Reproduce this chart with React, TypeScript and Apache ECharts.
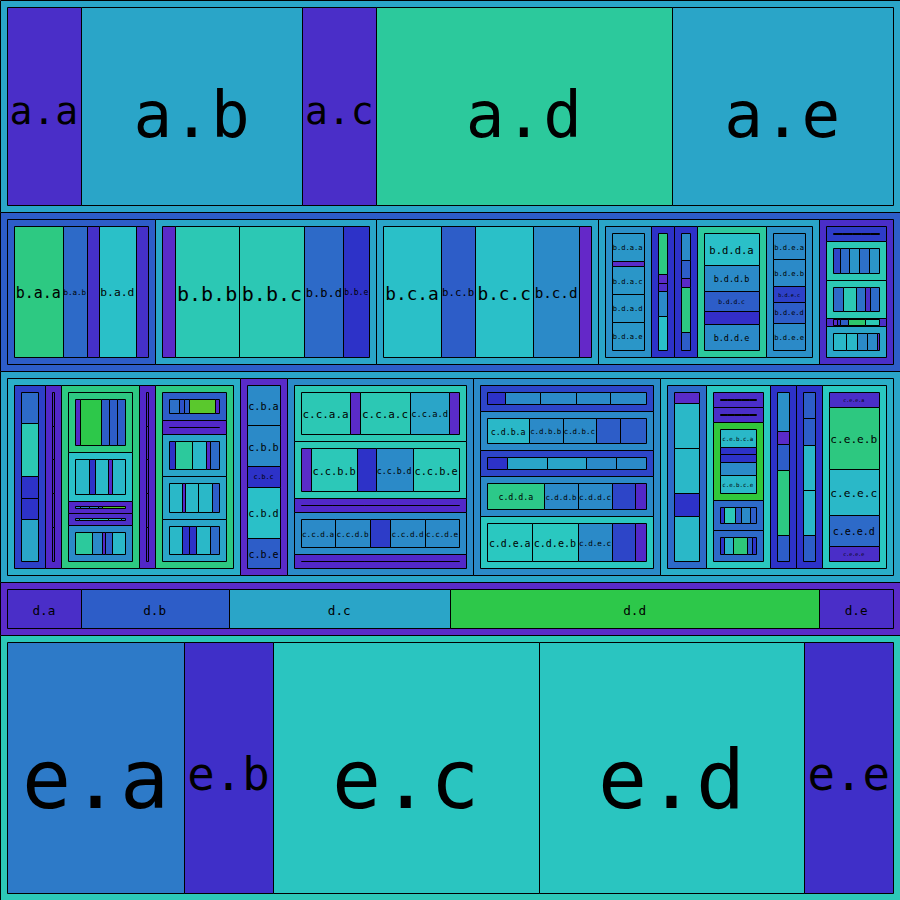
import React, { useEffect, useRef } from "react";
import * as echarts from "echarts";

// Every parent node has five children named a..e; each group lists its children's relative weights.
const childLetters = ["a", "b", "c", "d", "e"];

const groupIds = [
  "root",
  "a", "b", "c", "d", "e",
  "b.a", "b.b", "b.c", "b.d", "b.e",
  "c.a", "c.b", "c.c", "c.d", "c.e",
  "b.d.a", "b.d.b", "b.d.c", "b.d.d", "b.d.e",
  "b.e.a", "b.e.b", "b.e.c", "b.e.d", "b.e.e",
  "c.a.a", "c.a.b", "c.a.c", "c.a.d", "c.a.e",
  "c.c.a", "c.c.b", "c.c.c", "c.c.d", "c.c.e",
  "c.d.a", "c.d.b", "c.d.c", "c.d.d", "c.d.e",
  "c.e.a", "c.e.b", "c.e.c", "c.e.d", "c.e.e",
  "c.a.c.a", "c.a.c.b", "c.a.c.c", "c.a.c.d", "c.a.c.e",
  "c.a.e.a", "c.a.e.b", "c.a.e.c", "c.a.e.d", "c.a.e.e",
  "c.e.b.a", "c.e.b.b", "c.e.b.c", "c.e.b.d", "c.e.b.e",
];

const groupWeights: number[][] = [
  [12, 9, 12, 3, 15],
  [1, 3, 1, 4, 3], [2, 3, 3, 3, 1], [5, 1, 4, 4, 5], [1, 2, 3, 5, 1], [2, 1, 3, 3, 1],
  [4, 2, 1, 3, 1], [1, 5, 5, 3, 2], [5, 3, 5, 4, 1], [2, 1, 1, 3, 2], [2, 5, 5, 1, 4],
  [2, 1, 5, 1, 5], [4, 4, 2, 5, 3], [4, 4, 1, 3, 1], [2, 3, 2, 3, 4], [3, 5, 2, 2, 5],
  [5, 1, 5, 5, 5], [5, 1, 1, 3, 4], [6, 4, 2, 10, 4], [5, 4, 3, 2, 4], [5, 5, 3, 4, 5],
  [1, 1, 1, 1, 1], [7, 8, 10, 9, 10], [9, 13, 9, 4, 9], [4, 3, 7, 17, 13], [12, 11, 9, 10, 2],
  [3, 5, 2, 2, 4], [1, 1, 1, 1, 1], [10, 8, 2, 2, 6], [1, 1, 1, 1, 1], [2, 1, 3, 3, 3],
  [5, 1, 5, 4, 1], [10, 46, 18, 37, 46], [1, 1, 1, 1, 1], [5, 5, 3, 5, 5], [1, 1, 1, 1, 1],
  [17, 35, 35, 34, 35], [41, 33, 33, 24, 25], [2, 4, 4, 3, 3], [56, 33, 34, 22, 11], [44, 45, 34, 22, 11],
  [1, 4, 4, 2, 4], [1, 1, 5, 2, 2], [3, 1, 2, 5, 2], [3, 3, 5, 5, 3], [1, 4, 3, 2, 1],
  [5, 20, 8, 8, 8], [13, 6, 13, 3, 13], [5, 8, 9, 4, 22], [4, 12, 16, 12, 4], [16, 10, 3, 6, 13],
  [9, 5, 5, 24, 4], [1, 1, 1, 1, 1], [6, 16, 13, 3, 9], [12, 3, 12, 13, 7], [12, 7, 6, 13, 9],
  [1, 1, 1, 1, 1], [1, 1, 1, 1, 1], [17, 7, 7, 13, 17], [4, 10, 6, 8, 6], [4, 9, 13, 4, 4],
];

const palette: Record<string, string> = {
  PU: "#4a2ec8", VI: "#5a2bc8", VD: "#5228c8", IN: "#2d32c8", DR: "#2d45c8",
  RO: "#2d5dc8", RL: "#2d6ac8", MB: "#2b8ac8", CE: "#2aa5c8", AQ: "#2aaec8",
  CY: "#2ab8c8", CC: "#2ac0c8", TE: "#2cc8b4", TC: "#2ac8c0", TG: "#2cc99c",
  GT: "#2dc982", GR: "#2dc84a", LI: "#5ac82d",
};

const groupColors = [
  "CE RO CE VI #2cc8b8",
  "PU CE PU TG CE", "RO CE CE CE PU", "AQ VI MB MB AQ", "PU RO CE GR PU", "#2d7ac8 #3f2fc8 #2ac5c0 #2ac5c0 #3f2fc8",
  "GT RL #4530c8 CC #4530c8", "VI TE TE RL IN", "CC RO CC MB #6428c8", "#2b90c8 IN IN TG #2b90c8", "#2d3cc8 TE TE PU CE",
  "#2d40c8 VD GT VD GT", "MB MB IN CC RO", "TE TE VD MB VD", "DR MB DR MB TC", "RL TC IN IN TC",
  "#2a96c8 VI #2a96c8 #2a96c8 #2a96c8", "GT VI #4f2dc8 MB CC", "MB RO VI GT RO", "CC MB RO #332ec8 MB", "MB MB #2d40c8 RO MB",
  "DR DR DR DR DR", "DR RL #2b95c8 #2d70c8 #2b95c8", "RL TE #2d70c8 PU RL", "VI IN RO #2dc86a TE", "CY CY MB MB VI",
  "RL TE IN IN CE", "VD VD VD VD VD", "GT CC VD #4d2ec8 MB", "VD VD VD VD VD", "RO VD CE CE CE",
  "TE VI TE CE VI", "VI #2cc8b8 IN MB #2cc8b8", "VD VD VD VD VD", "MB MB #2d3cc8 MB MB", "VD VD VD VD VD",
  "IN MB MB MB MB", "CY MB MB RO RO", "IN CE CE MB MB", "#2cc989 MB MB DR VD", "TC TC MB DR VD",
  "VI CY CY IN CY", "PU PU #31c83a RL RL", "#2b90c8 VI RO GT RO", "RO RO CY CY RO", "PU #2dc880 CY RL PU",
  "VD GR RO RO RO", "CY IN CY VD CY", "MB #2b7ac8 MB RO #4cc82d", "MB CY TE CY MB", "TG MB VD RO CY",
  "#2d70c8 #2d50c8 RO LI VD", "VD VD VD VD VD", "IN TG CY VD RL", "CY VD CY CY RO", "CY IN IN CY RL",
  "PU PU PU PU PU", "PU PU PU PU PU", "CY IN IN MB CY", "IN #2cc8b8 RO MB RO", "IN #2ab0c8 #2dc87a RO IN",
];

type Cell = { id: string; x0: number; y0: number; x1: number; y1: number; color: string; leaf: boolean };

const EXTENT = 900;
const PAD = 7;

function buildCells(): Cell[] {
  const index = new Map<string, number>();
  groupIds.forEach((g, i) => index.set(g, i));
  const cells: Cell[] = [];
  const visit = (id: string, x0: number, y0: number, x1: number, y1: number, color: string, depth: number) => {
    const gi = index.get(id);
    if (depth > 0) cells.push({ id, x0, y0, x1, y1, color, leaf: gi === undefined });
    if (gi === undefined) return;
    const p = depth === 0 ? 0 : PAD;
    const ix0 = x0 + p, ix1 = x1 - p, iy0 = y0 + p, iy1 = y1 - p;
    const w = ix1 - ix0, h = iy1 - iy0;
    const ws = groupWeights[gi];
    const cs = groupColors[gi].split(" ").map((t) => palette[t] || t);
    const total = ws.reduce((s, v) => s + v, 0);
    let acc = 0;
    ws.forEach((v, k) => {
      const f0 = acc / total;
      acc += v;
      const f1 = acc / total;
      const cid = depth === 0 ? childLetters[k] : id + "." + childLetters[k];
      if (Math.abs(w) > Math.abs(h)) visit(cid, ix0 + w * f0, iy0, ix0 + w * f1, iy1, cs[k], depth + 1);
      else visit(cid, ix0, iy0 + h * f0, ix1, iy0 + h * f1, cs[k], depth + 1);
    });
  };
  visit("root", 0, 0, EXTENT, EXTENT, "#000", 0);
  return cells;
}

export default function App() {
  const ref = useRef<HTMLDivElement>(null);
  useEffect(() => {
    if (!ref.current) return;
    const chart = echarts.init(ref.current, undefined, { renderer: "svg" });
    const cells = buildCells();
    const option: any = {
      animation: false,
      grid: { left: 0, right: 0, top: 0, bottom: 0 },
      xAxis: { type: "value", min: 0, max: EXTENT, show: false },
      yAxis: { type: "value", min: 0, max: EXTENT, inverse: true, show: false },
      series: [
        {
          type: "custom",
          coordinateSystem: "cartesian2d",
          clip: false,
          silent: true,
          encode: { x: [0, 2], y: [1, 3] },
          data: cells.map((c) => [c.x0, c.y0, c.x1, c.y1]),
          renderItem: (params: any, api: any) => {
            const c = cells[params.dataIndex];
            const pa = api.coord([api.value(0), api.value(1)]);
            const pb = api.coord([api.value(2), api.value(3)]);
            const left = Math.round(Math.min(pa[0], pb[0]));
            const right = Math.round(Math.max(pa[0], pb[0]));
            const top = Math.round(Math.min(pa[1], pb[1]));
            const bottom = Math.round(Math.max(pa[1], pb[1]));
            const children: any[] = [
              {
                type: "rect",
                shape: { x: left + 0.5, y: top + 0.5, width: right - left, height: bottom - top },
                style: { fill: c.color, stroke: "#000", lineWidth: 1 },
              },
            ];
            if (c.leaf) {
              const w = Math.abs(pb[0] - pa[0]);
              const h = Math.abs(pb[1] - pa[1]);
              const fsW = w / (0.602 * c.id.length);
              if (h >= 14.3 && fsW >= 6.1) {
                const fs = Math.min(0.93 * fsW, 0.325 * h);
                children.push({
                  type: "text",
                  x: (pa[0] + pb[0]) / 2,
                  y: (pa[1] + pb[1]) / 2 + fs * 0.14,
                  style: {
                    text: c.id,
                    fontSize: fs,
                    fontFamily: "DejaVu Sans Mono",
                    fill: "#000",
                    align: "center",
                    verticalAlign: "middle",
                  },
                });
              }
            }
            return { type: "group", children };
          },
        },
      ],
    };
    chart.setOption(option);
    return () => chart.dispose();
  }, []);
  return <div ref={ref} style={{ position: "absolute", left: 0, top: 0, width: 900, height: 900 }} />;
}
